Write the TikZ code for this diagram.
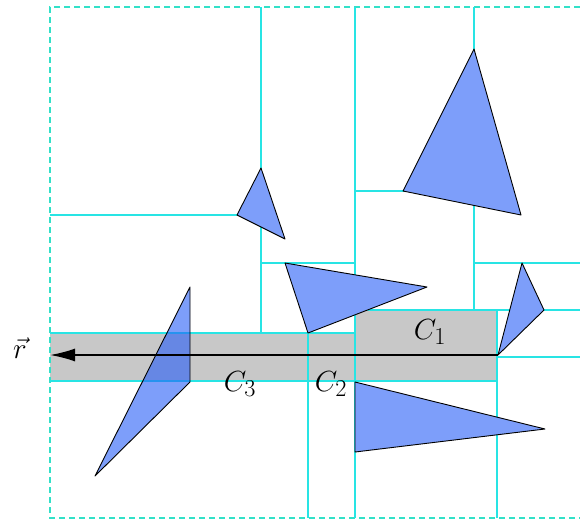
\documentclass[tikz,border=0pt]{standalone}
\usepackage{graphicx}
\usetikzlibrary{arrows.meta}
\definecolor{gridc}{RGB}{40,228,228}
\definecolor{dashc}{RGB}{50,225,200}
\definecolor{tric}{RGB}{125,158,250}
\definecolor{ttric}{RGB}{38,93,247}
\definecolor{cellc}{RGB}{200,200,200}
\newcommand{\biglab}[1]{\scalebox{1.17}{#1}}
\begin{document}
\begin{tikzpicture}[x=1pt,y=-1pt,
  gridline/.style={draw=gridc,line width=1.2pt},
  bound/.style={draw=dashc,line width=1.2pt,dash pattern=on 6pt off 4pt},
  tri/.style={fill=tric,draw=black,line width=0.9pt,line join=round},
  ttri/.style={fill=ttric,fill opacity=0.6,draw=black,line width=0.9pt,line join=round},
  cell/.style={fill=cellc},
  lab/.style={font=\fontsize{24.88}{27}\selectfont}]
\useasboundingbox (0,0) rectangle (580,522);
% traversed cells
\fill[cell] (50,333) rectangle (308,381);
\fill[cell] (308,333) rectangle (355,381);
\fill[cell] (355,310) rectangle (497,381);
% outer boundary (dashed)
\draw[bound] (580,7) -- (50,7) -- (50,518) -- (580,518);
% kd-tree splits
\draw[gridline] (355,7) -- (355,518);
\draw[gridline] (261,7) -- (261,333);
\draw[gridline] (50,215) -- (261,215);
\draw[gridline] (261,263) -- (355,263);
\draw[gridline] (50,333) -- (355,333);
\draw[gridline] (308,333) -- (308,518);
\draw[gridline] (50,381) -- (497,381);
\draw[gridline] (474,7) -- (474,310);
\draw[gridline] (355,191) -- (474,191);
\draw[gridline] (474,263) -- (580,263);
\draw[gridline] (355,310) -- (580,310);
\draw[gridline] (497,310) -- (497,518);
\draw[gridline] (497,357) -- (580,357);
% triangles
\draw[tri] (261,168) -- (237,215) -- (285,239) -- cycle;
\draw[tri] (474,49) -- (403,191) -- (521,215) -- cycle;
\draw[tri] (285,263) -- (427,287) -- (308,333) -- cycle;
\draw[tri] (522,263) -- (544,310) -- (498,355) -- cycle;
\draw[tri] (355,382) -- (545,429) -- (355,452) -- cycle;
\draw[ttri] (190,287) -- (190,382) -- (95,476) -- cycle;
% ray
\coordinate (o) at (498,355);
\coordinate (e) at (50,355);
\draw[line width=1.7pt,-{Latex[length=25pt,width=13pt]}] (o) -- (e);
% labels
\node[lab] (r) at (20,348) {\biglab{$\vec{r}$}};
\node[lab] (c1) at (430,332) {\biglab{$C_1$}};
\node[lab] (c2) at (331,384) {\biglab{$C_2$}};
\node[lab] (c3) at (240,384) {\biglab{$C_3$}};
\end{tikzpicture}
\end{document}
